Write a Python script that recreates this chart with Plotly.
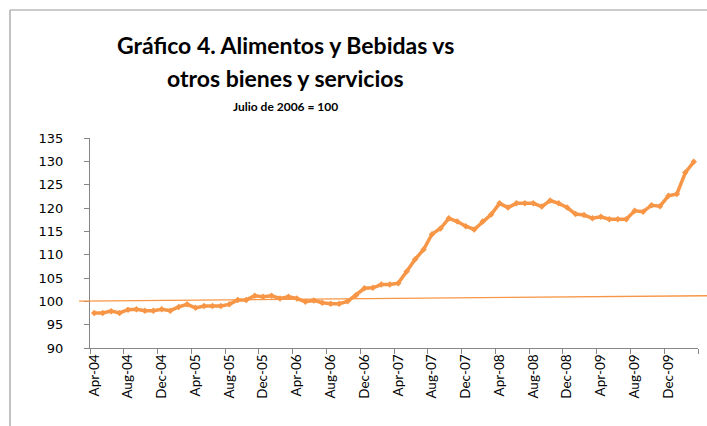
import plotly.graph_objects as go

months = ["Apr", "May", "Jun", "Jul", "Aug", "Sep", "Oct", "Nov", "Dec", "Jan", "Feb", "Mar"]
# monthly categories Apr-04 .. Mar-10
categories = []
for y in range(4, 10):
    for k, m in enumerate(months):
        yy = y if k < 9 else y + 1
        categories.append(f"{m}-{yy:02d}")

values = [
    97.5, 97.5, 97.9, 97.5, 98.2, 98.3, 98.0, 98.0, 98.3, 98.0, 98.8, 99.35,
    98.6, 99.0, 99.0, 99.0, 99.35, 100.3, 100.3, 101.2, 101.0, 101.2, 100.6, 101.0,
    100.6, 99.9, 100.2, 99.7, 99.5, 99.5, 100.0, 101.3, 102.8, 102.9, 103.6, 103.6,
    103.9, 106.4, 109.0, 111.1, 114.4, 115.6, 117.8, 117.1, 116.1, 115.4, 117.1, 118.6,
    121.0, 120.1, 121.0, 121.0, 121.0, 120.3, 121.6, 121.0, 120.1, 118.7, 118.5, 117.8,
    118.1, 117.6, 117.6, 117.6, 119.4, 119.2, 120.6, 120.4, 122.6, 123.0, 127.6, 129.9,
]

tick_every = 4
tick_labels = categories[::tick_every]
y_ticks = [90, 95, 100, 105, 110, 115, 120, 125, 130, 135]

# thin reference line (drawn across the chart, slightly sloped)
ref_line_x_paper = [-0.018, 1.015]
ref_line_y = [100.05, 101.2]

title_lines = ["Gráfico 4. Alimentos y Bebidas vs", "otros bienes y servicios"]
subtitle = "Julio de 2006 = 100"

orange = "#F79646"
axis_gray = "#868686"
frame_gray = "#9A9A9A"

x_idx = list(range(len(categories)))

fig = go.Figure()
fig.add_trace(go.Scatter(
    x=x_idx, y=values, mode="lines+markers",
    line=dict(color=orange, width=3.5),
    marker=dict(symbol="diamond", size=5, color=orange),
    showlegend=False, hoverinfo="skip",
))

fig.add_shape(type="line", xref="paper", yref="y",
              x0=ref_line_x_paper[0], x1=ref_line_x_paper[1],
              y0=ref_line_y[0], y1=ref_line_y[1],
              line=dict(color=orange, width=1.3))

# chart frame (left and top edges visible)
fig.add_shape(type="line", xref="paper", yref="paper",
              x0=-0.1316, x1=-0.1316, y0=-0.6, y1=1.6095,
              line=dict(color=frame_gray, width=1.2))
fig.add_shape(type="line", xref="paper", yref="paper",
              x0=-0.1316, x1=1.2, y0=1.6095, y1=1.6095,
              line=dict(color=frame_gray, width=1.2))

fig.add_annotation(text="<b>" + title_lines[0] + "</b>", xref="paper", yref="paper",
                   x=0.322, y=1.443, xanchor="center", yanchor="middle", showarrow=False,
                   font=dict(family="Lato", size=23, color="black"))
fig.add_annotation(text="<b>" + title_lines[1] + "</b>", xref="paper", yref="paper",
                   x=0.322, y=1.286, xanchor="center", yanchor="middle", showarrow=False,
                   font=dict(family="Lato", size=23, color="black"))
fig.add_annotation(text="<b>" + subtitle + "</b>", xref="paper", yref="paper",
                   x=0.322, y=1.148, xanchor="center", yanchor="middle", showarrow=False,
                   font=dict(family="Lato", size=12, color="black"))

fig.update_layout(
    width=707, height=426,
    margin=dict(l=90, r=9, t=138, b=78),
    paper_bgcolor="white", plot_bgcolor="white",
    xaxis=dict(
        range=[-0.5, len(categories) - 0.5],
        tickmode="array",
        tickvals=x_idx[::tick_every], ticktext=tick_labels,
        tickangle=-90, ticks="",
        tickfont=dict(family="Lato", size=13.5, color="black"),
        showgrid=False, zeroline=False,
        showline=True, linecolor=axis_gray, linewidth=1,
        minor=dict(tickmode="linear", tick0=-0.5, dtick=tick_every,
                   ticks="outside", ticklen=5, tickcolor=axis_gray, tickwidth=1,
                   showgrid=False),
    ),
    yaxis=dict(
        range=[90, 135], tickmode="array", tickvals=y_ticks,
        ticks="outside", ticklen=5, tickcolor=axis_gray,
        tickfont=dict(family="DejaVu Sans", size=13, color="black"),
        ticklabelstandoff=18,
        showgrid=False, zeroline=False,
        showline=True, linecolor=axis_gray, linewidth=1,
    ),
)

fig.write_html("out.html", config={"displayModeBar": False},
               post_script="document.body.style.margin='0';document.body.style.overflow='hidden';")
